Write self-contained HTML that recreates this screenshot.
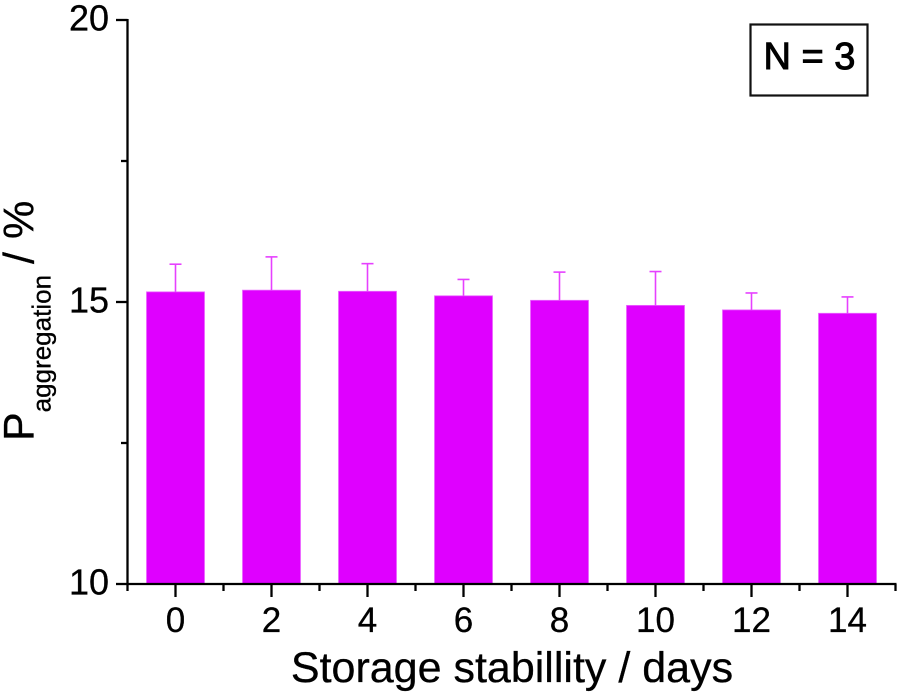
<!DOCTYPE html>
<html>
<head>
<meta charset="utf-8">
<style>
html,body{margin:0;padding:0;background:#fff;width:901px;height:696px;overflow:hidden}
svg{display:block}
text{font-family:"Liberation Sans",Arial,sans-serif;fill:#000;stroke:#000;stroke-width:0.3px}
</style>
</head>
<body>
<svg id="chart" width="901" height="696" viewBox="0 0 901 696" xmlns="http://www.w3.org/2000/svg">
<g id="bars"></g>
<g id="axes"></g>
<text x="512" y="682" font-size="43" text-anchor="middle">Storage stabillity / days</text>
<text transform="translate(33.5,441) rotate(-90)" font-size="43">P<tspan font-size="26" y="17">aggregation</tspan><tspan x="177" y="0" font-size="43">/</tspan><tspan x="202" y="0" font-size="43">%</tspan></text>
<rect x="750.5" y="24.5" width="117" height="71" fill="#fff" stroke="#111" stroke-width="2.2"/>
<text x="809.5" y="69" font-size="38" text-anchor="middle" style="stroke-width:1px">N = 3</text>
</svg>
<script>
const categories = [0, 2, 4, 6, 8, 10, 12, 14];
const barValues = [15.18, 15.21, 15.19, 15.11, 15.03, 14.94, 14.86, 14.80];
const errorTops = [15.67, 15.80, 15.68, 15.40, 15.53, 15.54, 15.16, 15.09];
const xMajorTicks = [0, 2, 4, 6, 8, 10, 12, 14];
const xMinorTicks = [-1, 1, 3, 5, 7, 9, 11, 13, 15];
const yMajorTicks = [10, 15, 20];
const yMinorTicks = [12.5, 17.5];

const NS = 'http://www.w3.org/2000/svg';
const xScale = function (v) { return 175.5 + (v - 0) * 48; };
const yScale = function (v) { return 584 - (v - 10) * 56.4; };
const barsGroup = document.getElementById('bars');
const axesGroup = document.getElementById('axes');

function make(tag, parent, attrs) {
  const el = document.createElementNS(NS, tag);
  Object.keys(attrs).forEach(function (k) { el.setAttribute(k, attrs[k]); });
  parent.appendChild(el);
  return el;
}

categories.forEach(function (c, i) {
  const x = xScale(c);
  const top = yScale(barValues[i]);
  const errTop = yScale(errorTops[i]);
  const bar = make('rect', barsGroup, { x: x - 29, y: top, width: 58, height: yScale(10) - top, fill: '#df00ff', stroke: '#ea66ff', 'stroke-width': 0.8 });
  
  
  const stem = make('line', barsGroup, { x1: x, x2: x, y1: top, y2: errTop, stroke: '#e640ff', 'stroke-width': 1.6 });
  
  
  const cap = make('line', barsGroup, { x1: x - 6, x2: x + 6, y1: errTop, y2: errTop, stroke: '#e640ff', 'stroke-width': 1.6 });
  
  
});

const xAxisLine = make('line', axesGroup, { x1: xScale(-1) - 1, x2: xScale(15) + 1, y1: yScale(10), y2: yScale(10), stroke: '#000', 'stroke-width': 2.3 });


const yAxisLine = make('line', axesGroup, { x1: xScale(-1), x2: xScale(-1), y1: yScale(20) - 1, y2: yScale(10) + 1, stroke: '#000', 'stroke-width': 2.3 });



xMajorTicks.forEach(function (t) {
  const x = xScale(t);
  const tick = make('line', axesGroup, { x1: x, x2: x, y1: 584, y2: 597, stroke: '#000', 'stroke-width': 2.3 });
  
  
  const label = make('text', axesGroup, { x: x, y: 632, 'font-size': 35, 'text-anchor': 'middle' });
  label.textContent = String(t);
  
  
});
xMinorTicks.forEach(function (t) {
  const x = xScale(t);
  const tick = make('line', axesGroup, { x1: x, x2: x, y1: 584, y2: 591, stroke: '#000', 'stroke-width': 2.3 });
  
  
});
yMajorTicks.forEach(function (t) {
  const y = yScale(t);
  const tick = make('line', axesGroup, { x1: 116, x2: 127.5, y1: y, y2: y, stroke: '#000', 'stroke-width': 2.3 });
  
  
  const label = make('text', axesGroup, { x: 109, y: y + 10.5, 'font-size': 36, 'text-anchor': 'end' });
  label.textContent = String(t);
  
  
});
yMinorTicks.forEach(function (t) {
  const y = yScale(t);
  const tick = make('line', axesGroup, { x1: 121, x2: 127.5, y1: y, y2: y, stroke: '#000', 'stroke-width': 2.3 });
  
  
});
</script>
</body>
</html>
